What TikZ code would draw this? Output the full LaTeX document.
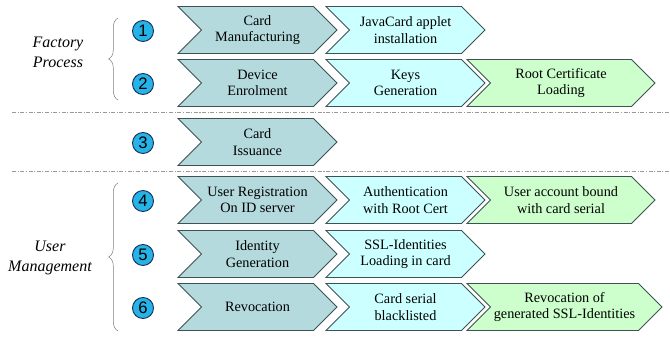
\documentclass[tikz,border=0pt]{standalone}
\usepackage{fontspec}
\setmainfont{Liberation Serif}
\newfontfamily\digitfont{Liberation Sans}
\usetikzlibrary{shapes.symbols,decorations.pathreplacing}
\definecolor{tealgray}{RGB}{180,218,222}
\definecolor{paleblue}{RGB}{204,255,255}
\definecolor{palegreen}{RGB}{204,255,204}
\definecolor{edgegray}{RGB}{62,82,84}
\definecolor{dotblue}{RGB}{38,180,232}
\definecolor{dotedge}{RGB}{24,48,90}
\tikzset{
phase/.style=
    {signal,
    signal from=west,
    signal to=east,
    draw=edgegray,
    line width=0.7pt,
    minimum height=35.25pt,
    minimum width=119.25pt,
    inner sep=0pt,
    align=center,
    font=\fontsize{10.7}{12.5}\selectfont
    },
firstcol/.style={phase,fill=tealgray},
midcol/.style={phase,fill=paleblue},
lastcol/.style={phase,fill=palegreen,minimum width=141pt},
num/.style=
    {circle,
    draw=dotedge,
    line width=0.7pt,
    fill=dotblue,
    minimum size=15.75pt,
    inner sep=0pt,
    font=\digitfont\fontsize{12.5}{12.5}\selectfont
    },
group/.style=
    {align=center,
    font=\itshape\fontsize{12}{15}\selectfont
    },
groupbrace/.style=
    {draw=gray,
    thin,
    decorate,
    decoration={brace,amplitude=7pt}
    },
separator/.style=
    {draw=gray!80,
    line width=0.6pt,
    dash pattern=on 3pt off 1.2pt on 0.8pt off 1.2pt
    }}

\begin{document}
\begin{tikzpicture}[x=0.75pt,y=-0.75pt]
\useasboundingbox (0,0) rectangle (670,338);

\node[group] (factory) at (58,52) {Factory\\Process};
\node[group] (users) at (50,258) {User\\Management};
\coordinate (fb1) at (118,100);
\coordinate (ft1) at (118,18);
\coordinate (ub1) at (118,331);
\coordinate (ut1) at (118,183);
\draw[groupbrace] (fb1) -- (ft1);
\draw[groupbrace] (ub1) -- (ut1);

\coordinate (sepa) at (12,112);
\coordinate (sepb) at (670,112);
\coordinate (sepc) at (12,171);
\coordinate (sepd) at (670,171);
\draw[separator] (sepa) -- (sepb);
\draw[separator] (sepc) -- (sepd);

\node[num] (n1) at (143,31) {1};
\node[firstcol] (manuf) at (257.5,30) {Card\\Manufacturing};
\node[midcol] (applet) at (405.5,30) {JavaCard applet\\installation};

\node[num] (n2) at (143,84) {2};
\node[firstcol] (enrol) at (257.5,83) {Device\\Enrolment};
\node[midcol] (keys) at (405.5,83) {Keys\\Generation};
\node[lastcol] (rootcert) at (561,83) {Root Certificate\\Loading};

\node[num] (n3) at (143,143) {3};
\node[firstcol] (issue) at (257.5,142) {Card\\Issuance};

\node[num] (n4) at (143,201) {4};
\node[firstcol] (register) at (257.5,200) {User Registration\\On ID server};
\node[midcol] (auth) at (405.5,200) {Authentication\\with Root Cert};
\node[lastcol] (bound) at (561,200) {User account bound\\with card serial};

\node[num] (n5) at (143,255) {5};
\node[firstcol] (identity) at (257.5,254) {Identity\\Generation};
\node[midcol] (sslload) at (405.5,254) {SSL-Identities\\Loading in card};

\node[num] (n6) at (143,308) {6};
\node[firstcol] (revoke) at (257.5,307) {Revocation};
\node[midcol] (blacklist) at (405.5,307) {Card serial\\blacklisted};
\node[lastcol,minimum width=146.25pt] (sslrevoke) at (564.5,307) {Revocation of\\generated SSL-Identities};

\end{tikzpicture}
\end{document}
